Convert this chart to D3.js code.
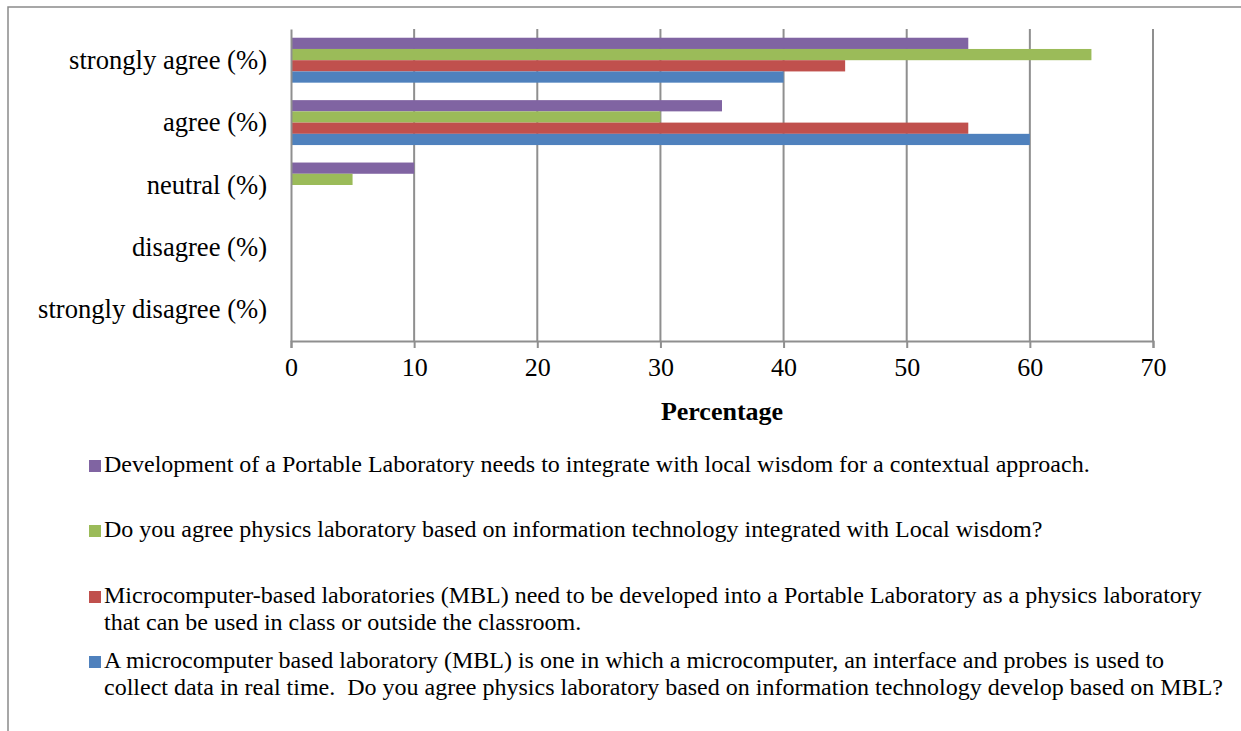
<!DOCTYPE html>
<html>
<head>
<meta charset="utf-8">
<script src="https://cdn.jsdelivr.net/npm/d3@7"></script>
<style>
  body { margin: 0; background: #fff; }
  svg { display: block; font-family: "Liberation Serif", "Times New Roman", serif; }
  .legend text { white-space: pre; }
</style>
</head>
<body>
<script>
"use strict";
// answer categories, top to bottom
const categories = ["strongly agree (%)", "agree (%)", "neutral (%)", "disagree (%)", "strongly disagree (%)"]

// series in the order they are drawn inside each group (top to bottom)
const seriesKeys = ["dev", "agreeLW", "mblPortable", "mblDef"]
const seriesColors = ["#8064A2", "#9BBB59", "#C0504D", "#4F81BD"]
const seriesLabels = [
    ["Development of a Portable Laboratory needs to integrate with local wisdom for a contextual approach."],
    ["Do you agree physics laboratory based on information technology integrated with Local wisdom?"],
    ["Microcomputer-based laboratories (MBL) need to be developed into a Portable Laboratory as a physics laboratory",
     "that can be used in class or outside the classroom."],
    ["A microcomputer based laboratory (MBL) is one in which a microcomputer, an interface and probes is used to",
     "collect data in real time.  Do you agree physics laboratory based on information technology develop based on MBL?"]
]

// values per series, following the category order
const devValues = [55, 35, 10, 0, 0]
const agreeLWValues = [65, 30, 5, 0, 0]
const mblPortableValues = [45, 55, 0, 0, 0]
const mblDefValues = [40, 60, 0, 0, 0]

const xTicks = [0, 10, 20, 30, 40, 50, 60, 70]

const seriesValues = [devValues, agreeLWValues, mblPortableValues, mblDefValues]

const measurements = {
    width: 1241,
    height: 731,
    plotLeft: 291,
    plotRight: 1153,
    plotTop: 29,
    plotBottom: 341
}

const svg = d3.select("body").append("svg")
    .attr("width", measurements.width)
    .attr("height", measurements.height)

// outer frame (runs off the right and bottom)
svg.append("rect")
    .attr("x", 8).attr("y", 7)
    .attr("width", 1300).attr("height", 800)
    .attr("fill", "none")
    .attr("stroke", "#8a8a8a")
    .attr("stroke-width", 1.5)

const scaleX = d3.scaleLinear()
    .domain([0, 70])
    .range([measurements.plotLeft, measurements.plotRight])

const scaleY = d3.scaleBand()
    .domain(categories)
    .range([measurements.plotTop, measurements.plotBottom])
    .paddingInner(0.28)
    .paddingOuter(0.14)

const scaleInner = d3.scaleBand()
    .domain(seriesKeys)
    .range([0, scaleY.bandwidth()])

// vertical gridlines
svg.append("g")
    .selectAll("line")
    .data(xTicks.slice(1))
    .enter().append("line")
    .attr("x1", d => scaleX(d)).attr("x2", d => scaleX(d))
    .attr("y1", measurements.plotTop).attr("y2", measurements.plotBottom)
    .attr("stroke", "#8f8f8f")
    .attr("stroke-width", 2)

// bars
const rows = []
categories.forEach((c, ci) => {
    seriesKeys.forEach((k, si) => {
        rows.push({ cat: c, key: k, value: seriesValues[si][ci], color: seriesColors[si] })
    })
})

svg.append("g")
    .selectAll("rect")
    .data(rows.filter(d => d.value > 0))
    .enter().append("rect")
    .attr("x", scaleX(0))
    .attr("y", d => scaleY(d.cat) + scaleInner(d.key))
    .attr("width", d => scaleX(d.value) - scaleX(0))
    .attr("height", scaleInner.bandwidth())
    .attr("fill", d => d.color)

// x axis
const xAxis = d3.axisBottom(scaleX)
    .tickValues(xTicks)
    .tickSize(7)
    .tickPadding(10)

const gx = svg.append("g")
    .attr("transform", "translate(0," + measurements.plotBottom + ")")
    .call(xAxis)
gx.select(".domain").attr("stroke", "#8f8f8f").attr("stroke-width", 2)
gx.selectAll(".tick line").attr("stroke", "#8f8f8f").attr("stroke-width", 2)
gx.selectAll(".tick text")
    .attr("font-family", "Liberation Serif, Times New Roman, serif")
    .attr("font-size", 26)
    .attr("fill", "#000")

// y axis
const yAxis = d3.axisLeft(scaleY).tickSize(0).tickPadding(24)
const gy = svg.append("g")
    .attr("transform", "translate(" + measurements.plotLeft + ",0)")
    .call(yAxis)
gy.select(".domain").attr("stroke", "#8f8f8f").attr("stroke-width", 2)
gy.selectAll(".tick text")
    .attr("font-family", "Liberation Serif, Times New Roman, serif")
    .attr("font-size", 26.6)
    .attr("fill", "#000")

// axis title
svg.append("text")
    .attr("x", (measurements.plotLeft + measurements.plotRight) / 2)
    .attr("y", 420)
    .attr("text-anchor", "middle")
    .attr("font-size", 26)
    .attr("font-weight", "bold")
    .text("Percentage")

// legend
const legendTop = [472, 537, 603, 668]
const legend = svg.selectAll(".legend")
    .data(seriesKeys)
    .enter().append("g")
    .attr("class", "legend")
    .attr("transform", (d, i) => "translate(0," + legendTop[i] + ")")

legend.append("rect")
    .attr("x", 89)
    .attr("y", -12)
    .attr("width", 12)
    .attr("height", 12)
    .attr("fill", (d, i) => seriesColors[i])

legend.append("text")
    .attr("x", 104)
    .attr("font-size", 24)
    .attr("fill", "#000")
    .selectAll("tspan")
    .data((d, i) => seriesLabels[i])
    .enter().append("tspan")
    .attr("x", 104)
    .attr("dy", (d, j) => j === 0 ? 0 : 27)
    .text(d => d)
</script>
</body>
</html>
